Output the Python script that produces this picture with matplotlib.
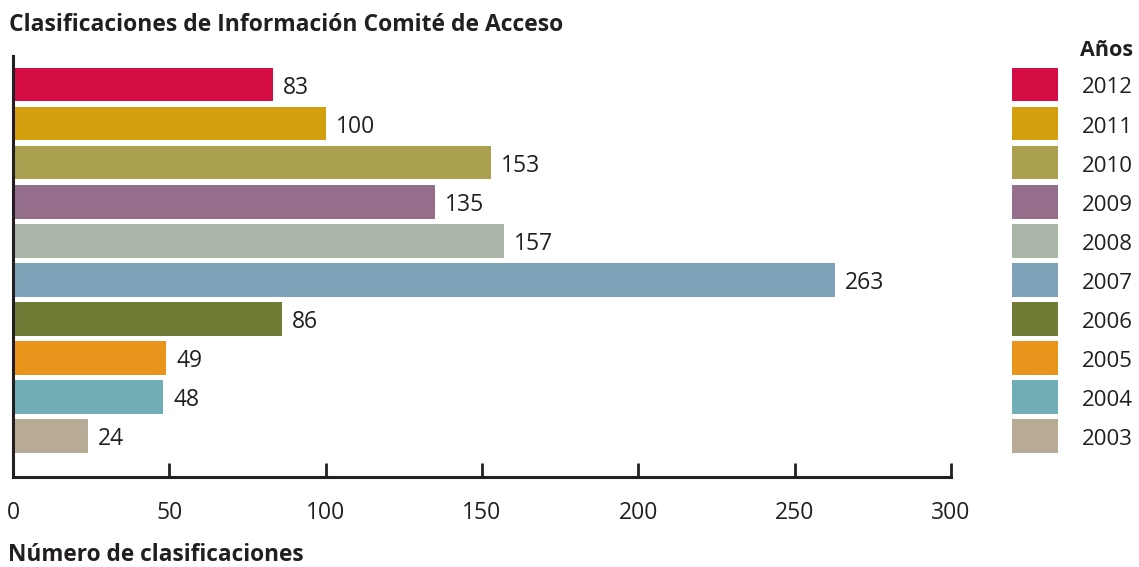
import matplotlib
matplotlib.use('Agg')
import matplotlib.pyplot as plt

# Datos
years = ['2012', '2011', '2010', '2009', '2008', '2007', '2006', '2005', '2004', '2003']
values = [83, 100, 153, 135, 157, 263, 86, 49, 48, 24]
colors = ['#D40D44', '#D49F0F', '#ABA04F', '#956E8B', '#ABB5A8',
          '#7DA2B8', '#727B36', '#E9951C', '#70AEB5', '#B8AB95']
xticks = [0, 50, 100, 150, 200, 250, 300]

plt.rcParams['font.family'] = ['Open Sans', 'DejaVu Sans']
text_color = '#231F20'

fig = plt.figure(figsize=(11.39, 5.67), dpi=100)
W, H = 1139, 567

# eje principal
ax = fig.add_axes([13 / W, 1 - 477 / H, (951 - 13) / W, (477 - 56) / H])
pos = list(range(len(values)))
ax.barh(pos, values, height=0.85, color=colors)
ax.set_xlim(0, 300)
ax.set_ylim(len(values) - 1 + 1.05, -0.74)

for p, v in zip(pos, values):
    ax.text(v + 3.2, p + 0.08, str(v), va='center', ha='left',
            fontsize=16.5, color=text_color)

ax.set_xticks(xticks)
ax.set_xticklabels([str(t) for t in xticks], fontsize=16.5, color=text_color)
ax.tick_params(axis='x', direction='in', length=10, width=2, pad=17,
               colors=text_color)
ax.set_yticks([])
for s in ['top', 'right']:
    ax.spines[s].set_visible(False)
ax.spines['bottom'].set_linewidth(2.2)
ax.spines['left'].set_linewidth(2.2)
ax.spines['bottom'].set_color(text_color)
ax.spines['left'].set_color(text_color)

# leyenda como eje aparte
lax = fig.add_axes([1012 / W, 1 - 477 / H, (1139 - 1012) / W, (477 - 56) / H])
lax.barh(pos, [1] * len(pos), height=0.85, color=colors)
lax.set_xlim(0, 127 / 46)
lax.set_ylim(len(values) - 1 + 1.05, -0.74)
for p, y in zip(pos, years):
    lax.text(2.07, p + 0.08, y, ha='center', va='center', fontsize=16,
             color=text_color)
lax.axis('off')

fig.text(1107 / W, 1 - 50 / H, 'Años', ha='center', va='center',
         fontsize=15.5, fontweight='bold', color=text_color)
fig.text(9 / W, 1 - 25 / H, 'Clasificaciones de Información Comité de Acceso',
         ha='left', va='center', fontsize=16.5, fontweight='bold', color=text_color)
fig.text(8 / W, 1 - 555 / H, 'Número de clasificaciones',
         ha='left', va='center', fontsize=16.3, fontweight='bold', color=text_color)

fig.savefig('out.png', dpi=100)
